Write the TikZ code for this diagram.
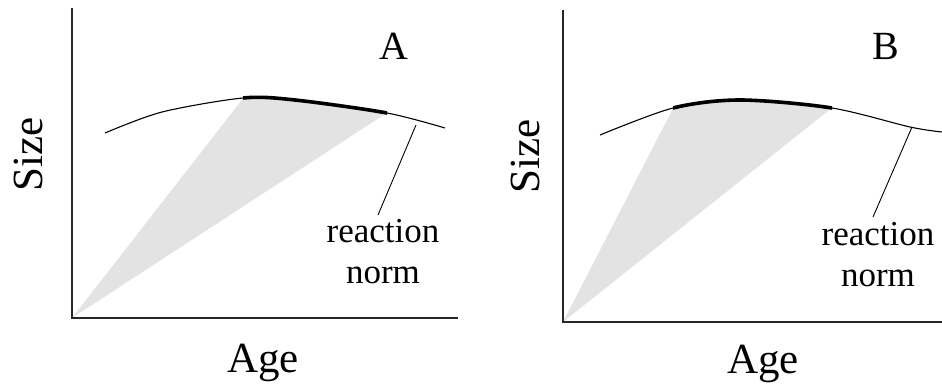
\documentclass[tikz,border=0pt]{standalone}
\usepackage{fontspec}
\setmainfont{Liberation Serif}
\usetikzlibrary{positioning}

\begin{document}
\begin{tikzpicture}[x=1pt, y=-1pt,
  axis/.style={line width=1.2pt, black!85},
  rnorm/.style={line width=1.1pt},
  span/.style={line width=3.6pt},
  shade/.style={fill=black!11},
  lead/.style={line width=0.9pt},
  big/.style={font=\fontsize{43}{43}\selectfont, inner sep=0pt},
  panel/.style={font=\fontsize{40}{40}\selectfont, inner sep=0pt},
  note/.style={font=\fontsize{35}{41}\selectfont, align=center, inner sep=0pt}
]
\useasboundingbox (0,0) rectangle (942,385);

% panel A
\coordinate (oA) at (72,318);
\coordinate (yA) at (72,8);
\coordinate (xA) at (458,318);
\begin{scope}
  \clip (oA) -- (273,60) -- (468,60) -- cycle;
  \fill[shade] plot[smooth] coordinates {(105,133) (162,112) (243,98) (295,100) (387,113) (445,128)}
    -- (445,330) -- (60,330) -- (60,133) -- cycle;
\end{scope}
\draw[axis] (yA) -- (oA) -- (xA);
\path[save path=\curveA] plot[smooth] coordinates {(105,133) (162,112) (243,98) (295,100) (387,113) (445,128)};
\draw[rnorm, use path=\curveA];
\begin{scope}
  \clip (243,60) rectangle (387,140);
  \draw[span, use path=\curveA];
\end{scope}
\node[panel, anchor=base] (labA) at (394,60) {A};
\node[note, anchor=north] (rnA) at (383,219) {reaction\\norm};
\coordinate (pA) at (416,125);
\draw[lead] (pA) -- ([shift={(-5,-4)}]rnA.north);
\node[big, anchor=base] (ageA) at (263,372) {Age};
\node[big, rotate=90, anchor=base] (sizeA) at (42,154) {Size};

% panel B
\coordinate (oB) at (563,322);
\coordinate (yB) at (563,10);
\coordinate (xB) at (942,322);
\begin{scope}
  \clip (oB) -- (698,60) -- (892,60) -- cycle;
  \fill[shade] plot[smooth] coordinates {(600,135) (673,108) (740,100) (832,108) (910,127) (942,132)}
    -- (942,330) -- (550,330) -- (550,135) -- cycle;
\end{scope}
\draw[axis] (yB) -- (oB) -- (xB);
\path[save path=\curveB] plot[smooth] coordinates {(600,135) (673,108) (740,100) (832,108) (910,127) (942,132)};
\draw[rnorm, use path=\curveB];
\begin{scope}
  \clip (673,60) rectangle (832,140);
  \draw[span, use path=\curveB];
\end{scope}
\node[panel, anchor=base] (labB) at (886,60) {B};
\node[note, anchor=north] (rnB) at (878,222) {reaction\\norm};
\coordinate (pB) at (912,127);
\draw[lead] (pB) -- ([shift={(-5,-5)}]rnB.north);
\node[big, anchor=base] (ageB) at (763,373) {Age};
\node[big, rotate=90, anchor=base] (sizeB) at (539,156) {Size};
\end{tikzpicture}
\end{document}
